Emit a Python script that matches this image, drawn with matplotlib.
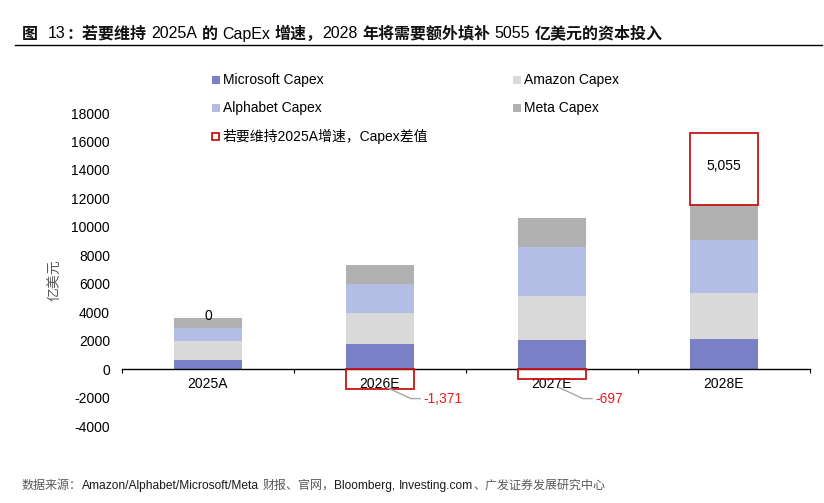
import matplotlib
matplotlib.use("Agg")
import matplotlib.pyplot as plt
from matplotlib.patches import Rectangle
import numpy as np

plt.rcParams['font.family'] = ['Liberation Sans', 'Noto Sans CJK SC', 'DejaVu Sans']

categories = ['2025A', '2026E', '2027E', '2028E']
microsoft = [640, 1730, 2010, 2080]
amazon = [1310, 2230, 3100, 3240]
alphabet = [910, 2020, 3500, 3780]
meta = [710, 1340, 2040, 2460]
gap = [0, -1371, -697, 5055]
gap_labels = ['0', '-1,371', '-697', '5,055']
series_names = ['Microsoft Capex', 'Amazon Capex', 'Alphabet Capex', 'Meta Capex']
gap_name = '若要维持2025A增速，Capex差值'
yticks = [-4000, -2000, 0, 2000, 4000, 6000, 8000, 10000, 12000, 14000, 16000, 18000]

colors = ['#7b7fc6', '#d9d9d9', '#b4bde4', '#b0b0b0']
red = '#c81414'
W, H = 824, 503
fig = plt.figure(figsize=(W / 100, H / 100), dpi=100)
ax_l, ax_r, ax_t, ax_b = 122, 810, 113, 426
ax = fig.add_axes([ax_l / W, 1 - ax_b / H, (ax_r - ax_l) / W, (ax_b - ax_t) / H])

x = np.arange(len(categories))
bw = 0.4
bottom = np.zeros(len(categories))
for vals, c in zip([microsoft, amazon, alphabet, meta], colors):
    ax.bar(x, vals, bw, bottom=bottom, color=c, edgecolor='none', zorder=2)
    bottom += np.array(vals)
totals = bottom

ax.set_xlim(-0.5, len(categories) - 0.5)
ax.set_ylim(-4000, 18000)

px_x = (len(categories)) / (ax_r - ax_l)
px_y = 22000 / (ax_b - ax_t)

for i, g in enumerate(gap):
    if g > 0:
        ax.add_patch(Rectangle((i - bw / 2, totals[i]), bw, g, facecolor='white',
                               edgecolor=red, linewidth=1.3, zorder=3))
        ax.text(i, totals[i] + g / 2 + 200, gap_labels[i], ha='center', va='center',
                fontsize=10, color='black', zorder=4)
    elif g < 0:
        ax.add_patch(Rectangle((i - bw / 2, 0), bw, g, facecolor='none',
                               edgecolor=red, linewidth=1.3, zorder=3))
        xs = [i + 7 * px_x, i + 31 * px_x, i + 40 * px_x]
        ys = [-18.5 * px_y, -29.5 * px_y, -29.5 * px_y]
        ax.plot(xs, ys, color='#a6a6a6', linewidth=1.0, zorder=3, clip_on=False)
        ax.text(i + 43 * px_x, -30 * px_y, gap_labels[i], ha='left', va='center',
                fontsize=10, color='#ee1c1c', zorder=4)
    else:
        ax.text(i, totals[i] + 2 * px_y, gap_labels[i], ha='center', va='center',
                fontsize=10, color='black', zorder=4)

for s in ['top', 'right', 'left']:
    ax.spines[s].set_visible(False)
ax.spines['bottom'].set_position(('data', 0))
ax.spines['bottom'].set_color('black')
ax.spines['bottom'].set_linewidth(1.0)
ax.set_xticks(x)
ax.set_xticklabels(categories, fontsize=10)
ax.set_xticks(np.arange(-0.5, len(categories)), minor=True)
ax.tick_params(axis='x', which='major', length=0, pad=6)
ax.tick_params(axis='x', which='minor', length=3, direction='out', width=0.8)
ax.set_yticks(yticks)
ax.set_yticklabels([str(v) for v in yticks], fontsize=10)
ax.tick_params(axis='y', length=0, pad=8.6)
fig.text(55 / W, 1 - 280 / H, '亿美元', rotation=90, ha='center', va='center',
         fontsize=10, color='#595959')

# legend (manual)
leg_items = [(series_names[0], colors[0], 212, 80, False),
             (series_names[2], colors[2], 212, 108, False),
             (gap_name, red, 212, 136, True),
             (series_names[1], colors[1], 513, 80, False),
             (series_names[3], colors[3], 513, 108, False)]
for name, c, lx, ly, hollow in leg_items:
    if hollow:
        r = Rectangle((lx / W, 1 - (ly + 4) / H), 7 / W, 7 / H, transform=fig.transFigure,
                      facecolor='white', edgecolor=c, linewidth=1.3)
    else:
        r = Rectangle((lx / W, 1 - (ly + 4) / H), 8 / W, 8 / H, transform=fig.transFigure,
                      facecolor=c, edgecolor='none')
    fig.patches.append(r)
    fig.text((lx + 10.5) / W, 1 - ly / H, name, ha='left', va='center', fontsize=10, color='black')

renderer = fig.canvas.get_renderer()


def seg_text(x0, ybase, segments):
    cur = x0
    for s, kw, gap_after in segments:
        t = fig.text(cur / W, 1 - ybase / H, s, ha='left', va='baseline', **kw)
        bb = t.get_window_extent(renderer)
        cur = bb.x1 + gap_after
    return cur


fs_t = 11.5
cj = dict(fontsize=fs_t, fontweight='bold', family=['Noto Sans CJK SC'], color='#111111')
la = dict(fontsize=fs_t, family=['Liberation Sans'], color='black')
sp = fs_t * 100 / 72 * 0.28
seg_text(22, 38.5, [('图', cj, 2.2 * sp), ('13', la, 1), ('：若要维持', cj, sp), ('2025A', la, sp),
                    ('的', cj, sp), ('CapEx', la, sp), ('增速，', cj, 0), ('2028', la, sp),
                    ('年将需要额外填补', cj, sp), ('5055', la, sp), ('亿美元的资本投入', cj, 0)])
fig.add_artist(plt.Line2D([15 / W, 822 / W], [1 - 45 / H, 1 - 45 / H], color='black', linewidth=1.0))

fs_s = 8.65
cg = dict(fontsize=fs_s, family=['Noto Sans CJK SC'], color='#595959')
lb = dict(fontsize=fs_s, family=['Liberation Sans'], color='#1a1a1a')
sp2 = fs_s * 100 / 72 * 0.28
seg_text(22, 489, [('数据来源：', cg, 0), ('Amazon/Alphabet/Microsoft/Meta', lb, sp2),
                   ('财报、官网，', cg, 0), ('Bloomberg,', lb, sp2), ('Investing.com', lb, 0),
                   ('、广发证券发展研究中心', cg, 0)])

fig.savefig('out.png', dpi=100)
